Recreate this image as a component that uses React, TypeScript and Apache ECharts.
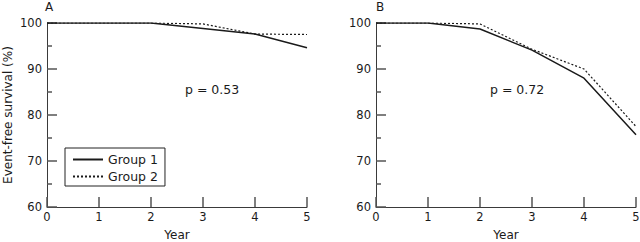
import React, { useEffect, useRef } from "react";
import * as echarts from "echarts";

const years = [0, 1, 2, 3, 4, 5];
const aGroup1 = [100, 100, 100, 98.8, 97.6, 94.6];
const aGroup2 = [100, 100, 100, 99.8, 97.6, 97.5];
const bGroup1 = [100, 100, 98.7, 94.1, 88.0, 75.7];
const bGroup2 = [100, 100, 99.8, 94.3, 90.0, 77.5];
const seriesNames = ["Group 1", "Group 2"];
const panelLabels = ["A", "B"];
const pValues = ["p = 0.53", "p = 0.72"];
const yTicks = { min: 60, max: 100, interval: 10 };
const xTicks = { min: 0, max: 5, interval: 1 };

const FONT = "DejaVu Sans";
const INK = "#1a1a1a";
const AXIS = "#3a3a3a";
const TICK = "#555";

function pairs(vals: number[]) {
  return years.map((y, i) => [y, vals[i]]);
}

export default function App() {
  const ref = useRef<HTMLDivElement>(null);
  useEffect(() => {
    if (!ref.current) return;
    const chart = echarts.init(ref.current, null, { renderer: "svg" });
    const grids = [
      { left: 47, top: 23, width: 260, height: 184, containLabel: false, outerBoundsMode: "none" },
      { left: 376, top: 23, width: 260, height: 184, containLabel: false, outerBoundsMode: "none" },
    ];
    const xAxis = grids.map((_, i) => ({
      type: "value",
      gridIndex: i,
      min: xTicks.min,
      max: xTicks.max,
      interval: xTicks.interval,
      name: "Year",
      nameLocation: "middle",
      nameGap: 22,
      nameTextStyle: { fontFamily: FONT, fontSize: 12, color: INK },
      axisLine: { show: true, onZero: false, lineStyle: { color: AXIS, width: 1 } },
      axisTick: { show: true, inside: true, length: 10, lineStyle: { color: TICK, width: 1.5 } },
      axisLabel: { fontFamily: FONT, fontSize: 11.5, color: INK, margin: 4 },
      splitLine: { show: false },
    }));
    const yAxis = grids.map((_, i) => ({
      type: "value",
      gridIndex: i,
      min: yTicks.min,
      max: yTicks.max,
      interval: yTicks.interval,
      name: i === 0 ? "Event-free survival (%)" : "",
      nameLocation: "middle",
      nameGap: 33,
      nameTextStyle: { fontFamily: FONT, fontSize: 12, color: INK },
      axisLine: { show: true, onZero: false, lineStyle: { color: AXIS, width: 1 } },
      axisTick: { show: true, inside: true, length: 10, lineStyle: { color: TICK, width: 1.5 } },
      minorTick: { show: true, splitNumber: 2, length: 5, lineStyle: { color: TICK, width: 1.5 } },
      axisLabel: { fontFamily: FONT, fontSize: 11.5, color: INK, margin: 5 },
      splitLine: { show: false },
    }));
    const mk = (name: string, data: number[], idx: number, dashed: boolean) => ({
      type: "line",
      name,
      xAxisIndex: idx,
      yAxisIndex: idx,
      data: pairs(data),
      symbol: "none",
      lineStyle: { color: INK, width: dashed ? 1.2 : 1.5, type: dashed ? [2, 2] : "solid" },
      itemStyle: { color: INK },
    });
    chart.setOption({
      animation: false,
      backgroundColor: "#fff",
      grid: grids,
      xAxis,
      yAxis,
      legend: {
        data: seriesNames,
        orient: "vertical",
        left: 65,
        top: 148,
        padding: [5, 7, 3, 7],
        itemGap: 4,
        itemWidth: 30,
        itemHeight: 14,
        borderColor: "#222",
        borderWidth: 1,
        itemStyle: { opacity: 0 },
        textStyle: { fontFamily: FONT, fontSize: 12.5, color: INK },
      },
      graphic: [
        { type: "text", left: 45, top: 1, style: { text: panelLabels[0], font: `12px "${FONT}"`, fill: INK } },
        { type: "text", left: 376, top: 1, style: { text: panelLabels[1], font: `12px "${FONT}"`, fill: INK } },
        { type: "text", left: 185, top: 83, style: { text: pValues[0], font: `12.5px "${FONT}"`, fill: INK } },
        { type: "text", left: 490, top: 83, style: { text: pValues[1], font: `12.5px "${FONT}"`, fill: INK } },
      ],
      series: [
        mk(seriesNames[0], aGroup1, 0, false),
        mk(seriesNames[1], aGroup2, 0, true),
        mk(seriesNames[0], bGroup1, 1, false),
        mk(seriesNames[1], bGroup2, 1, true),
      ],
    });
    return () => chart.dispose();
  }, []);
  return <div ref={ref} style={{ width: 640, height: 242, position: "absolute", left: 0, top: 0 }} />;
}
